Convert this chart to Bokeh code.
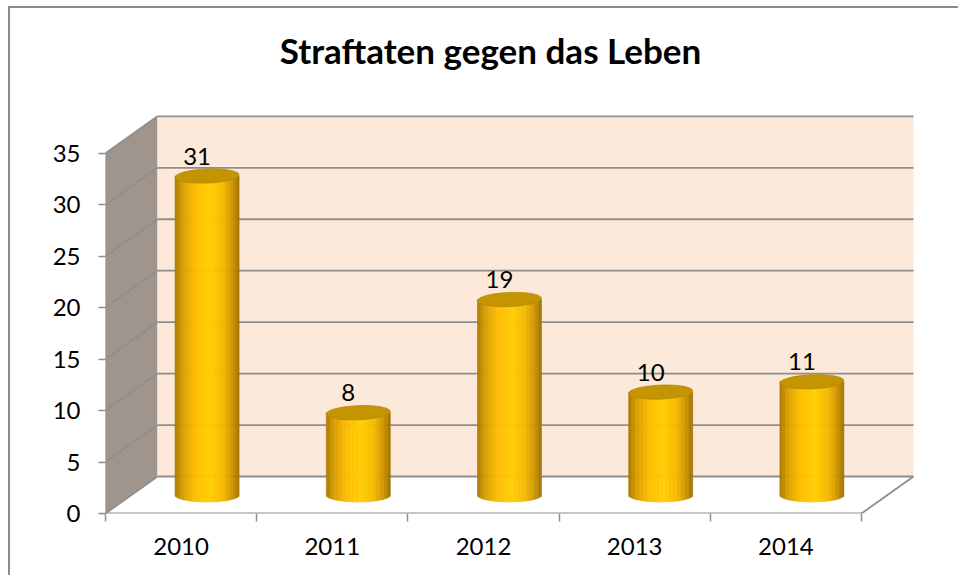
import numpy as np
from bokeh.plotting import figure
from bokeh.models import FixedTicker
from bokeh.core.properties import value
from bokeh.embed import file_html
from bokeh.resources import INLINE

# ---------------- data ----------------
years = ["2010", "2011", "2012", "2013", "2014"]
counts = [31, 8, 19, 10, 11]
y_ticks = [0, 5, 10, 15, 20, 25, 30, 35]
title_text = "Straftaten gegen das Leben"

# ---------------- layout ----------------
W, H = 950, 569
LEFT, BOTTOM = 95, 64
PX_CAT = 151.2          # pixels per category
PX_UNIT = 10.29         # pixels per value unit
DX = 52 / PX_CAT        # depth offset (x, in category units)
DY = 37 / PX_UNIT       # depth offset (y, in value units)
YMAX = y_ticks[-1]
n = len(years)
FONT = "Lato"
GRID = "#8e8e8e"

p = figure(width=W, height=H, output_backend="svg", toolbar_location=None,
           x_range=(0, (W - LEFT) / PX_CAT), y_range=(0, (H - BOTTOM) / PX_UNIT),
           min_border_left=LEFT, min_border_bottom=BOTTOM,
           min_border_top=0, min_border_right=0)
p.styles = {"border-left": "2px solid #8c8c8c", "border-top": "2px solid #8c8c8c",
            "margin-left": "8px", "margin-top": "6px"}
p.background_fill_color = "white"
p.border_fill_color = "white"
p.outline_line_color = None
p.xgrid.visible = False
p.ygrid.visible = False

# ---------------- walls ----------------
p.patch([0, DX, DX, 0], [0, DY, YMAX + DY, YMAX], fill_color="#a0958d", line_color=None)
p.quad(left=[DX], right=[n + DX], bottom=[DY], top=[YMAX + DY],
       fill_color="#fde9d9", line_color=None)
p.patch([0, n, n + DX, DX], [0, 0, DY, DY], fill_color="white", line_color=None)

# gridlines on back wall and side wall
p.segment(x0=[DX] * len(y_ticks), y0=[t + DY for t in y_ticks],
          x1=[n + DX] * len(y_ticks), y1=[t + DY for t in y_ticks],
          line_color=GRID, line_width=1.8)
p.segment(x0=[0] * len(y_ticks), y0=y_ticks,
          x1=[DX] * len(y_ticks), y1=[t + DY for t in y_ticks],
          line_color=GRID, line_width=1.8)
# front edges
p.segment(x0=[0, 0, n], y0=[0, 0, 0], x1=[0, n, n + DX], y1=[YMAX, 0, DY],
          line_color=GRID, line_width=1.8)

# ---------------- cylinders ----------------
stops = [(0.0, (168, 120, 0)), (0.12, (214, 158, 0)), (0.32, (255, 190, 0)),
         (0.55, (255, 206, 0)), (0.75, (246, 186, 0)), (0.9, (204, 148, 0)),
         (1.0, (160, 114, 0))]


def grad(f):
    for (a, ca), (b, cb) in zip(stops[:-1], stops[1:]):
        if a <= f <= b:
            k = (f - a) / (b - a)
            c = [int(round(ca[j] + (cb[j] - ca[j]) * k)) for j in range(3)]
            return "#%02x%02x%02x" % tuple(c)
    return "#%02x%02x%02x" % stops[-1][1]


HW = 32 / PX_CAT
RY = 7 / PX_UNIT
K = 48
L, R, B, T, C = [], [], [], [], []
cxs, tops = [], []
for i, v in enumerate(counts):
    cx = i + 0.5 + DX / 2
    base = DY / 2
    top = v + DY / 2
    cxs.append(cx)
    tops.append(top)
    edges = np.linspace(cx - HW, cx + HW, K + 1)
    for k in range(K):
        f = (k + 0.5) / K
        t = 2 * f - 1
        L.append(edges[k])
        R.append(edges[k + 1])
        B.append(base - RY * np.sqrt(max(0.0, 1 - t * t)))
        T.append(top)
        C.append(grad(f))

p.quad(left=L, right=R, bottom=B, top=T, fill_color=C, line_color=C, line_width=0.6)
p.ellipse(x=cxs, y=tops, width=2 * HW, height=2 * RY, angle=0.04,
          fill_color="#c49500", line_color="#b48800", line_width=0.8)

# data labels
p.text(x=cxs, y=tops, text=[str(v) for v in counts], x_offset=-10, y_offset=-20,
       text_align="center", text_baseline="alphabetic",
       text_font=value(FONT), text_font_size="24px", text_color="black")

# title
p.text(x=[(490 - 105) / PX_CAT], y=[(H - BOTTOM - 41) / PX_UNIT], text=[title_text],
       text_align="center", text_baseline="middle", text_font=value(FONT),
       text_font_style="bold", text_font_size="35px", text_color="black")

# ---------------- axes ----------------
ya = p.yaxis[0]
ya.ticker = FixedTicker(ticks=y_ticks)
ya.axis_line_color = None
ya.major_tick_line_color = GRID
ya.major_tick_line_width = 1.5
ya.major_tick_out = 7
ya.major_tick_in = 0
ya.minor_tick_line_color = None
ya.major_label_standoff = 18
ya.major_label_text_font = FONT
ya.major_label_text_font_size = "24px"
ya.major_label_text_color = "black"

xa = p.xaxis[0]
xa.ticker = FixedTicker(ticks=[i + 0.5 for i in range(n)], minor_ticks=list(range(n + 1)))
xa.major_label_overrides = {i + 0.5: y for i, y in enumerate(years)}
xa.axis_line_color = None
xa.major_tick_line_color = None
xa.major_tick_out = 0
xa.major_tick_in = 0
xa.minor_tick_line_color = GRID
xa.minor_tick_line_width = 1.5
xa.minor_tick_out = 8
xa.minor_tick_in = 0
xa.major_label_standoff = 16
xa.major_label_text_font = FONT
xa.major_label_text_font_size = "24px"
xa.major_label_text_color = "black"

open("out.html", "w").write(file_html(p, INLINE))
